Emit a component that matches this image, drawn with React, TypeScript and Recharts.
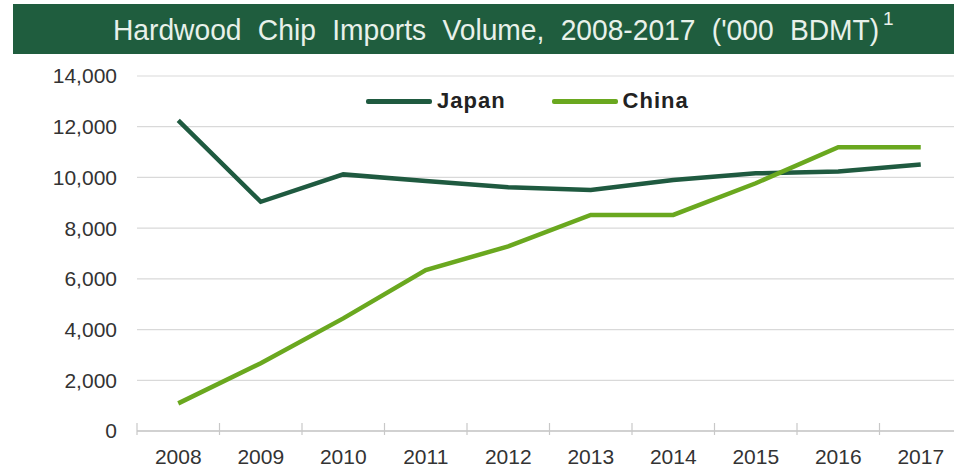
import React from 'react';
import { LineChart, Line, XAxis, YAxis, CartesianGrid, Legend } from 'recharts';

const years = ['2008', '2009', '2010', '2011', '2012', '2013', '2014', '2015', '2016', '2017'];
const japan = [12250, 9040, 10120, 9860, 9610, 9500, 9900, 10160, 10230, 10510];
const china = [1090, 2670, 4440, 6350, 7280, 8520, 8520, 9770, 11190, 11190];
const yTicks = [0, 2000, 4000, 6000, 8000, 10000, 12000, 14000];
const seriesOrder = ['Japan', 'China'];

const data = years.map((y, i) => ({ year: y, Japan: japan[i], China: china[i] }));

const JAPAN_COLOR = '#1f5a40';
const CHINA_COLOR = '#6aa81f';
const FONT = '"Liberation Sans", Arial, sans-serif';

const CHART_W = 962;
const CHART_H = 470;
const YAXIS_W = 137;
const TICK_MARGIN = 18;
const BAND = (CHART_W - YAXIS_W) / years.length;

const renderLegend = (props: any) => {
  const { payload } = props;
  return (
    <div style={{ display: 'flex', alignItems: 'center', fontFamily: FONT }}>
      {payload.map((p: any) => (
        <div key={p.value} style={{ display: 'flex', alignItems: 'center', marginRight: 46 }}>
          <div style={{ width: 66, height: 5, background: p.color, borderRadius: 2 }} />
          <span style={{ fontWeight: 'bold', fontSize: 22, letterSpacing: 1, color: '#222', marginLeft: 5 }}>
            {p.value}
          </span>
        </div>
      ))}
    </div>
  );
};

const XTick = (props: any) => {
  const { x, y, payload } = props;
  const axisY = y - TICK_MARGIN;
  const edgeX = x - BAND / 2;
  return (
    <g>
      <line x1={edgeX} x2={edgeX} y1={axisY - 8} y2={axisY + 4} stroke="#c8c8c8" strokeWidth={1.2} />
      <text x={x} y={y} dy="0.71em" textAnchor="middle" fill="#333" fontSize={21} fontFamily={FONT}>
        {payload.value}
      </text>
    </g>
  );
};

export default function App() {
  return (
    <div style={{ position: 'absolute', left: 0, top: 0, width: 954, height: 470, overflow: 'hidden', background: '#fff' }}>
      <div
        style={{
          position: 'absolute',
          left: 13,
          top: 4,
          width: 941,
          height: 50,
          background: '#1f5d3e',
        }}
      />
      <div
        style={{
          position: 'absolute',
          left: 113,
          top: 5,
          height: 50,
          lineHeight: '50px',
          color: '#e8f1ea',
          fontFamily: FONT,
          fontSize: 30,
          wordSpacing: 9,
          whiteSpace: 'pre',
          transform: 'scaleX(0.94)',
          transformOrigin: 'left center',
        }}
      >
        {"Hardwood Chip Imports Volume, 2008-2017 ('000 BDMT)"}
      </div>
      <div
        style={{
          position: 'absolute',
          left: 883,
          top: 9,
          lineHeight: '19px',
          color: '#e8f1ea',
          fontFamily: FONT,
          fontSize: 19,
        }}
      >
        1
      </div>
      <div style={{ position: 'absolute', left: 0, top: 0 }}>
        <LineChart width={CHART_W} height={CHART_H} data={data} margin={{ top: 76, right: 0, bottom: 0, left: 0 }}>
          <CartesianGrid vertical={false} stroke="#d9d9d9" strokeWidth={1.2} />
          <XAxis
            dataKey="year"
            scale="band"
            height={39}
            axisLine={{ stroke: '#c8c8c8', strokeWidth: 1.5 }}
            tickLine={false}
            tickSize={0}
            tickMargin={TICK_MARGIN}
            interval={0}
            tick={<XTick />}
          />
          <YAxis
            width={YAXIS_W}
            domain={[0, 14000]}
            ticks={yTicks}
            interval={0}
            axisLine={false}
            tickLine={false}
            tickSize={0}
            tickMargin={20}
            tickFormatter={(v: number) => v.toLocaleString('en-US')}
            tick={{ fill: '#333', fontSize: 21, fontFamily: FONT }}
          />
          <Legend
            verticalAlign="middle"
            align="center"
            layout="horizontal"
            content={renderLegend}
            itemSorter={(item: any) => seriesOrder.indexOf(item.value)}
            wrapperStyle={{ top: 88, left: 366, width: 'auto' }}
          />
          <Line
            dataKey="Japan"
            stroke={JAPAN_COLOR}
            strokeWidth={4.5}
            dot={false}
            isAnimationActive={false}
          />
          <Line
            dataKey="China"
            stroke={CHINA_COLOR}
            strokeWidth={4.5}
            dot={false}
            isAnimationActive={false}
          />
        </LineChart>
      </div>
    </div>
  );
}
